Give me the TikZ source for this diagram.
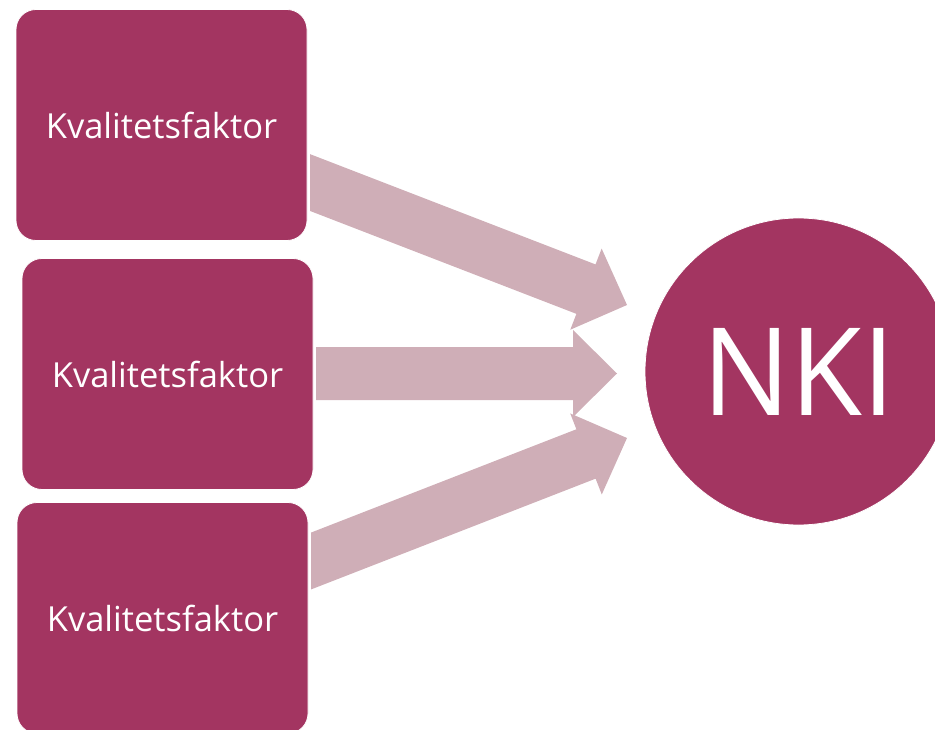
\documentclass[tikz,border=0pt]{standalone}
\usepackage{fontspec}
\setmainfont{Open Sans}
\usetikzlibrary{calc}
\definecolor{boxcol}{RGB}{163,53,97}
\definecolor{arrcol}{RGB}{207,174,183}
\tikzset{
  factor/.style={draw=white, line width=0.8pt, fill=boxcol, rounded corners=20pt,
    text=white, font=\fontsize{34.5}{42}\selectfont, inner sep=0pt,
    minimum width=291pt, minimum height=231pt},
  hub/.style={circle, fill=boxcol, draw=white, line width=0.8pt, text=white,
    font=\fontsize{122}{140}\selectfont, minimum size=307pt, inner sep=0pt},
  blockarr/.style={fill=arrcol},
}
\newcommand{\blockarrow}[2]{%
  \coordinate (bh) at ($(#2)!44pt!(#1)$);
  \fill[blockarr] ($(#1)!26.5pt!90:(#2)$) -- ($(bh)!26.5pt!90:(#2)$)
    -- ($(bh)!43.5pt!90:(#2)$) -- (#2) -- ($(bh)!43.5pt!-90:(#2)$)
    -- ($(bh)!26.5pt!-90:(#2)$) -- ($(#1)!26.5pt!-90:(#2)$) -- cycle;
}
\begin{document}
\begin{tikzpicture}[x=1pt, y=-1pt]
  \useasboundingbox (0,0) rectangle (935,730);
  \clip (0,0) rectangle (935,730);
  \node[factor] (b1) at (161.5,125) {Kvalitetsfaktor};
  \node[factor] (b2) at (167.5,374) {Kvalitetsfaktor};
  \node[factor] (b3) at (162.5,618) {Kvalitetsfaktor};
  \node[hub] (nki) at (798.5,371.5) {\scalebox{0.96}[1]{NKI}};
  \coordinate (s1) at (290,174.8);
  \coordinate (t1) at (627,305);
  \coordinate (s2) at (296,373.5);
  \coordinate (t2) at (617,373.5);
  \coordinate (s3) at (290,569.2);
  \coordinate (t3) at (627,438);
  \begin{scope}
    \clip (310,0) rectangle (935,730);
    \blockarrow{s1}{t1}
  \end{scope}
  \begin{scope}
    \clip (316,0) rectangle (935,730);
    \blockarrow{s2}{t2}
  \end{scope}
  \begin{scope}
    \clip (311,0) rectangle (935,730);
    \blockarrow{s3}{t3}
  \end{scope}
\end{tikzpicture}
\end{document}
